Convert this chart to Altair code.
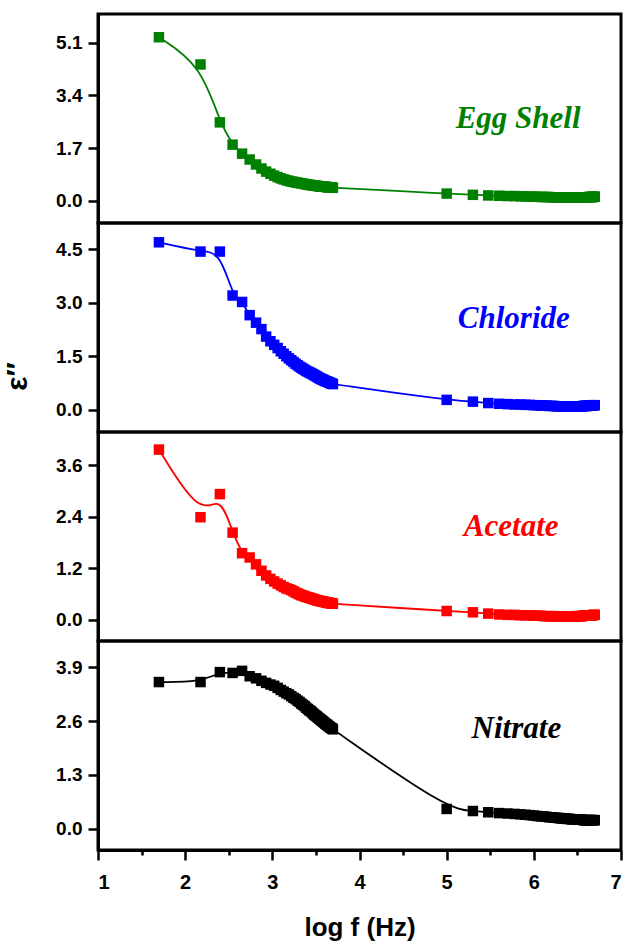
import altair as alt
import pandas as pd

# log10 of measurement frequency (Hz): 50 Hz ... 4950 Hz and 100 kHz ... 5 MHz
LOGF_LOW = [1.699, 2.176, 2.398, 2.544, 2.653, 2.740, 2.813, 2.875, 2.929, 2.978,
            3.021, 3.061, 3.097, 3.130, 3.161, 3.190, 3.217, 3.243, 3.267, 3.290,
            3.312, 3.332, 3.352, 3.371, 3.389, 3.407, 3.423, 3.439, 3.455, 3.470,
            3.484, 3.498, 3.512, 3.525, 3.538, 3.550, 3.562, 3.574, 3.585, 3.597,
            3.607, 3.618, 3.628, 3.638, 3.648, 3.658, 3.667, 3.677, 3.686, 3.695]
LOGF_HIGH = [5.000, 5.301, 5.477, 5.602, 5.699, 5.778, 5.845, 5.903, 5.954, 6.000,
             6.041, 6.079, 6.114, 6.146, 6.176, 6.204, 6.230, 6.255, 6.279, 6.301,
             6.322, 6.342, 6.362, 6.380, 6.398, 6.415, 6.431, 6.447, 6.462, 6.477,
             6.491, 6.505, 6.519, 6.531, 6.544, 6.556, 6.568, 6.580, 6.591, 6.602,
             6.613, 6.623, 6.633, 6.643, 6.653, 6.663, 6.672, 6.681, 6.690, 6.699]

EGG_LOW = [5.28, 4.40, 2.53, 1.81, 1.52, 1.33, 1.17, 1.04, 0.94, 0.87,
           0.81, 0.76, 0.72, 0.69, 0.66, 0.64, 0.62, 0.61, 0.59, 0.58,
           0.57, 0.56, 0.55, 0.54, 0.53, 0.52, 0.51, 0.51, 0.50, 0.49,
           0.49, 0.48, 0.48, 0.47, 0.47, 0.46, 0.46, 0.46, 0.45, 0.45,
           0.45, 0.44, 0.44, 0.44, 0.43, 0.43, 0.43, 0.43, 0.42, 0.42]
EGG_HIGH = [0.23, 0.19, 0.17, 0.16, 0.15, 0.15, 0.14, 0.14, 0.13, 0.13,
            0.13, 0.12, 0.12, 0.12, 0.12, 0.11, 0.11, 0.11, 0.11, 0.11,
            0.10, 0.10, 0.10, 0.10, 0.10, 0.10, 0.10, 0.10, 0.10, 0.10,
            0.10, 0.10, 0.10, 0.10, 0.11, 0.11, 0.11, 0.11, 0.11, 0.11,
            0.11, 0.11, 0.12, 0.12, 0.12, 0.12, 0.12, 0.12, 0.13, 0.13]

CHL_LOW = [4.69, 4.43, 4.43, 3.20, 3.02, 2.65, 2.44, 2.26, 2.05, 1.92,
           1.82, 1.73, 1.64, 1.57, 1.50, 1.44, 1.39, 1.34, 1.29, 1.25,
           1.21, 1.18, 1.15, 1.12, 1.09, 1.07, 1.05, 1.03, 1.01, 0.99,
           0.97, 0.95, 0.93, 0.91, 0.89, 0.88, 0.86, 0.85, 0.84, 0.82,
           0.81, 0.80, 0.79, 0.78, 0.77, 0.76, 0.75, 0.74, 0.73, 0.72]
CHL_HIGH = [0.28, 0.23, 0.19, 0.17, 0.16, 0.15, 0.15, 0.14, 0.14, 0.13,
            0.13, 0.12, 0.12, 0.12, 0.11, 0.11, 0.11, 0.10, 0.10, 0.10,
            0.10, 0.10, 0.09, 0.09, 0.09, 0.09, 0.09, 0.09, 0.09, 0.09,
            0.10, 0.10, 0.10, 0.10, 0.10, 0.10, 0.11, 0.11, 0.11, 0.11,
            0.11, 0.12, 0.12, 0.12, 0.12, 0.12, 0.13, 0.13, 0.13, 0.13]

ACE_LOW = [3.97, 2.39, 2.93, 2.03, 1.55, 1.45, 1.29, 1.14, 1.03, 0.95,
           0.89, 0.84, 0.80, 0.76, 0.73, 0.71, 0.69, 0.66, 0.63, 0.61,
           0.59, 0.57, 0.56, 0.54, 0.53, 0.52, 0.51, 0.50, 0.49, 0.48,
           0.47, 0.46, 0.45, 0.44, 0.44, 0.43, 0.43, 0.42, 0.42, 0.41,
           0.41, 0.40, 0.40, 0.39, 0.39, 0.39, 0.38, 0.38, 0.38, 0.37]
ACE_HIGH = [0.20, 0.17, 0.14, 0.12, 0.11, 0.11, 0.10, 0.10, 0.10, 0.09,
            0.09, 0.09, 0.08, 0.08, 0.08, 0.08, 0.08, 0.07, 0.07, 0.07,
            0.07, 0.07, 0.07, 0.07, 0.07, 0.07, 0.07, 0.07, 0.07, 0.07,
            0.08, 0.08, 0.08, 0.08, 0.08, 0.08, 0.09, 0.09, 0.09, 0.09,
            0.09, 0.10, 0.10, 0.10, 0.10, 0.10, 0.10, 0.11, 0.11, 0.11]

NIT_LOW = [3.54, 3.54, 3.78, 3.76, 3.81, 3.68, 3.63, 3.57, 3.52, 3.48,
           3.45, 3.40, 3.35, 3.31, 3.27, 3.24, 3.20, 3.16, 3.13, 3.09,
           3.06, 3.02, 2.99, 2.96, 2.92, 2.89, 2.86, 2.84, 2.81, 2.78,
           2.75, 2.73, 2.71, 2.68, 2.66, 2.64, 2.62, 2.60, 2.58, 2.56,
           2.54, 2.52, 2.51, 2.49, 2.47, 2.46, 2.44, 2.43, 2.42, 2.40]
NIT_HIGH = [0.48, 0.43, 0.40, 0.38, 0.37, 0.36, 0.35, 0.34, 0.33, 0.32,
            0.31, 0.30, 0.30, 0.29, 0.28, 0.28, 0.27, 0.27, 0.26, 0.26,
            0.25, 0.25, 0.25, 0.24, 0.24, 0.24, 0.23, 0.23, 0.23, 0.23,
            0.22, 0.22, 0.22, 0.22, 0.22, 0.22, 0.21, 0.21, 0.21, 0.21,
            0.21, 0.21, 0.21, 0.21, 0.21, 0.21, 0.21, 0.21, 0.21, 0.21]

NAMES = ["Egg Shell", "Chloride", "Acetate", "Nitrate"]
COLORS = ["#008000", "#0000ff", "#ff0000", "#000000"]
Y_DOMAINS = [[-0.72, 6.03], [-0.62, 5.23], [-0.50, 4.38], [-0.51, 4.53]]
Y_TICKS = [[0, 1.7, 3.4, 5.1], [0, 1.5, 3.0, 4.5], [0, 1.2, 2.4, 3.6], [0, 1.3, 2.6, 3.9]]
LABEL_X = [5.82, 5.77, 5.74, 5.80]
LABEL_Y = [2.36, 2.29, 1.96, 2.20]
X_TICKS = [1, 1.5, 2, 2.5, 3, 3.5, 4, 4.5, 5, 5.5, 6, 6.5, 7]

SERIES = [(EGG_LOW, EGG_HIGH), (CHL_LOW, CHL_HIGH), (ACE_LOW, ACE_HIGH), (NIT_LOW, NIT_HIGH)]

W, H = 523, 209
AXFONT = "Liberation Sans"


def panel(i):
    low, high = SERIES[i]
    df = pd.DataFrame({"logf": LOGF_LOW + LOGF_HIGH, "eps": low + high})
    lab = pd.DataFrame({"logf": [LABEL_X[i]], "eps": [LABEL_Y[i]], "name": [NAMES[i]]})
    color = COLORS[i]

    if i == 3:
        xaxis = alt.Axis(
            values=X_TICKS, format=".0f",
            labelExpr="datum.value % 1 === 0 ? datum.label : ''",
            tickSize={"condition": {"test": "datum.value % 1 === 0", "value": 10}, "value": 5},
            labelFontSize=20, labelPadding=12, title="log f (Hz)", titleFontSize=26, titlePadding=22,
            labelOverlap=False,
        )
    else:
        xaxis = None

    if i == 1:
        yaxis = alt.Axis(values=Y_TICKS[i], format=".1f", tickSize=10, labelPadding=6,
                         title="ε″", titleFontSize=30, titleAngle=-90, titleX=-66, titleY=153)
    else:
        yaxis = alt.Axis(values=Y_TICKS[i], format=".1f", tickSize=10, labelPadding=6, title=None)

    x = alt.X("logf:Q", scale=alt.Scale(domain=[1, 7], nice=False, zero=False), axis=xaxis)
    y = alt.Y("eps:Q", scale=alt.Scale(domain=Y_DOMAINS[i], nice=False, zero=False), axis=yaxis)

    line = alt.Chart(df).mark_line(color=color, strokeWidth=1.8, interpolate="basis").encode(x=x, y=y)
    pts = alt.Chart(df).mark_square(color=color, size=110, opacity=1, filled=True).encode(x=x, y=y)
    txt = alt.Chart(lab).mark_text(
        font="Liberation Serif", fontSize=31, fontStyle="italic", fontWeight="bold",
        color=color, align="center", baseline="alphabetic",
    ).encode(x=x, y=y, text="name:N")
    return alt.layer(line, pts, txt).properties(width=W, height=H)


chart = alt.vconcat(*[panel(i) for i in range(4)], spacing=0, bounds="flush").properties(
    padding={"left": 0, "top": 12, "right": 0, "bottom": 0}
).configure_view(
    stroke="black", strokeWidth=3
).configure_axis(
    labelFont=AXFONT, labelFontWeight="bold", labelFontSize=19, labelColor="black",
    tickColor="black", tickWidth=2.5, domainColor="black", domainWidth=3, grid=False,
    titleFont=AXFONT, titleFontWeight="bold", titleColor="black",
)

chart.save("out.html", embed_options={"renderer": "svg", "actions": False})
